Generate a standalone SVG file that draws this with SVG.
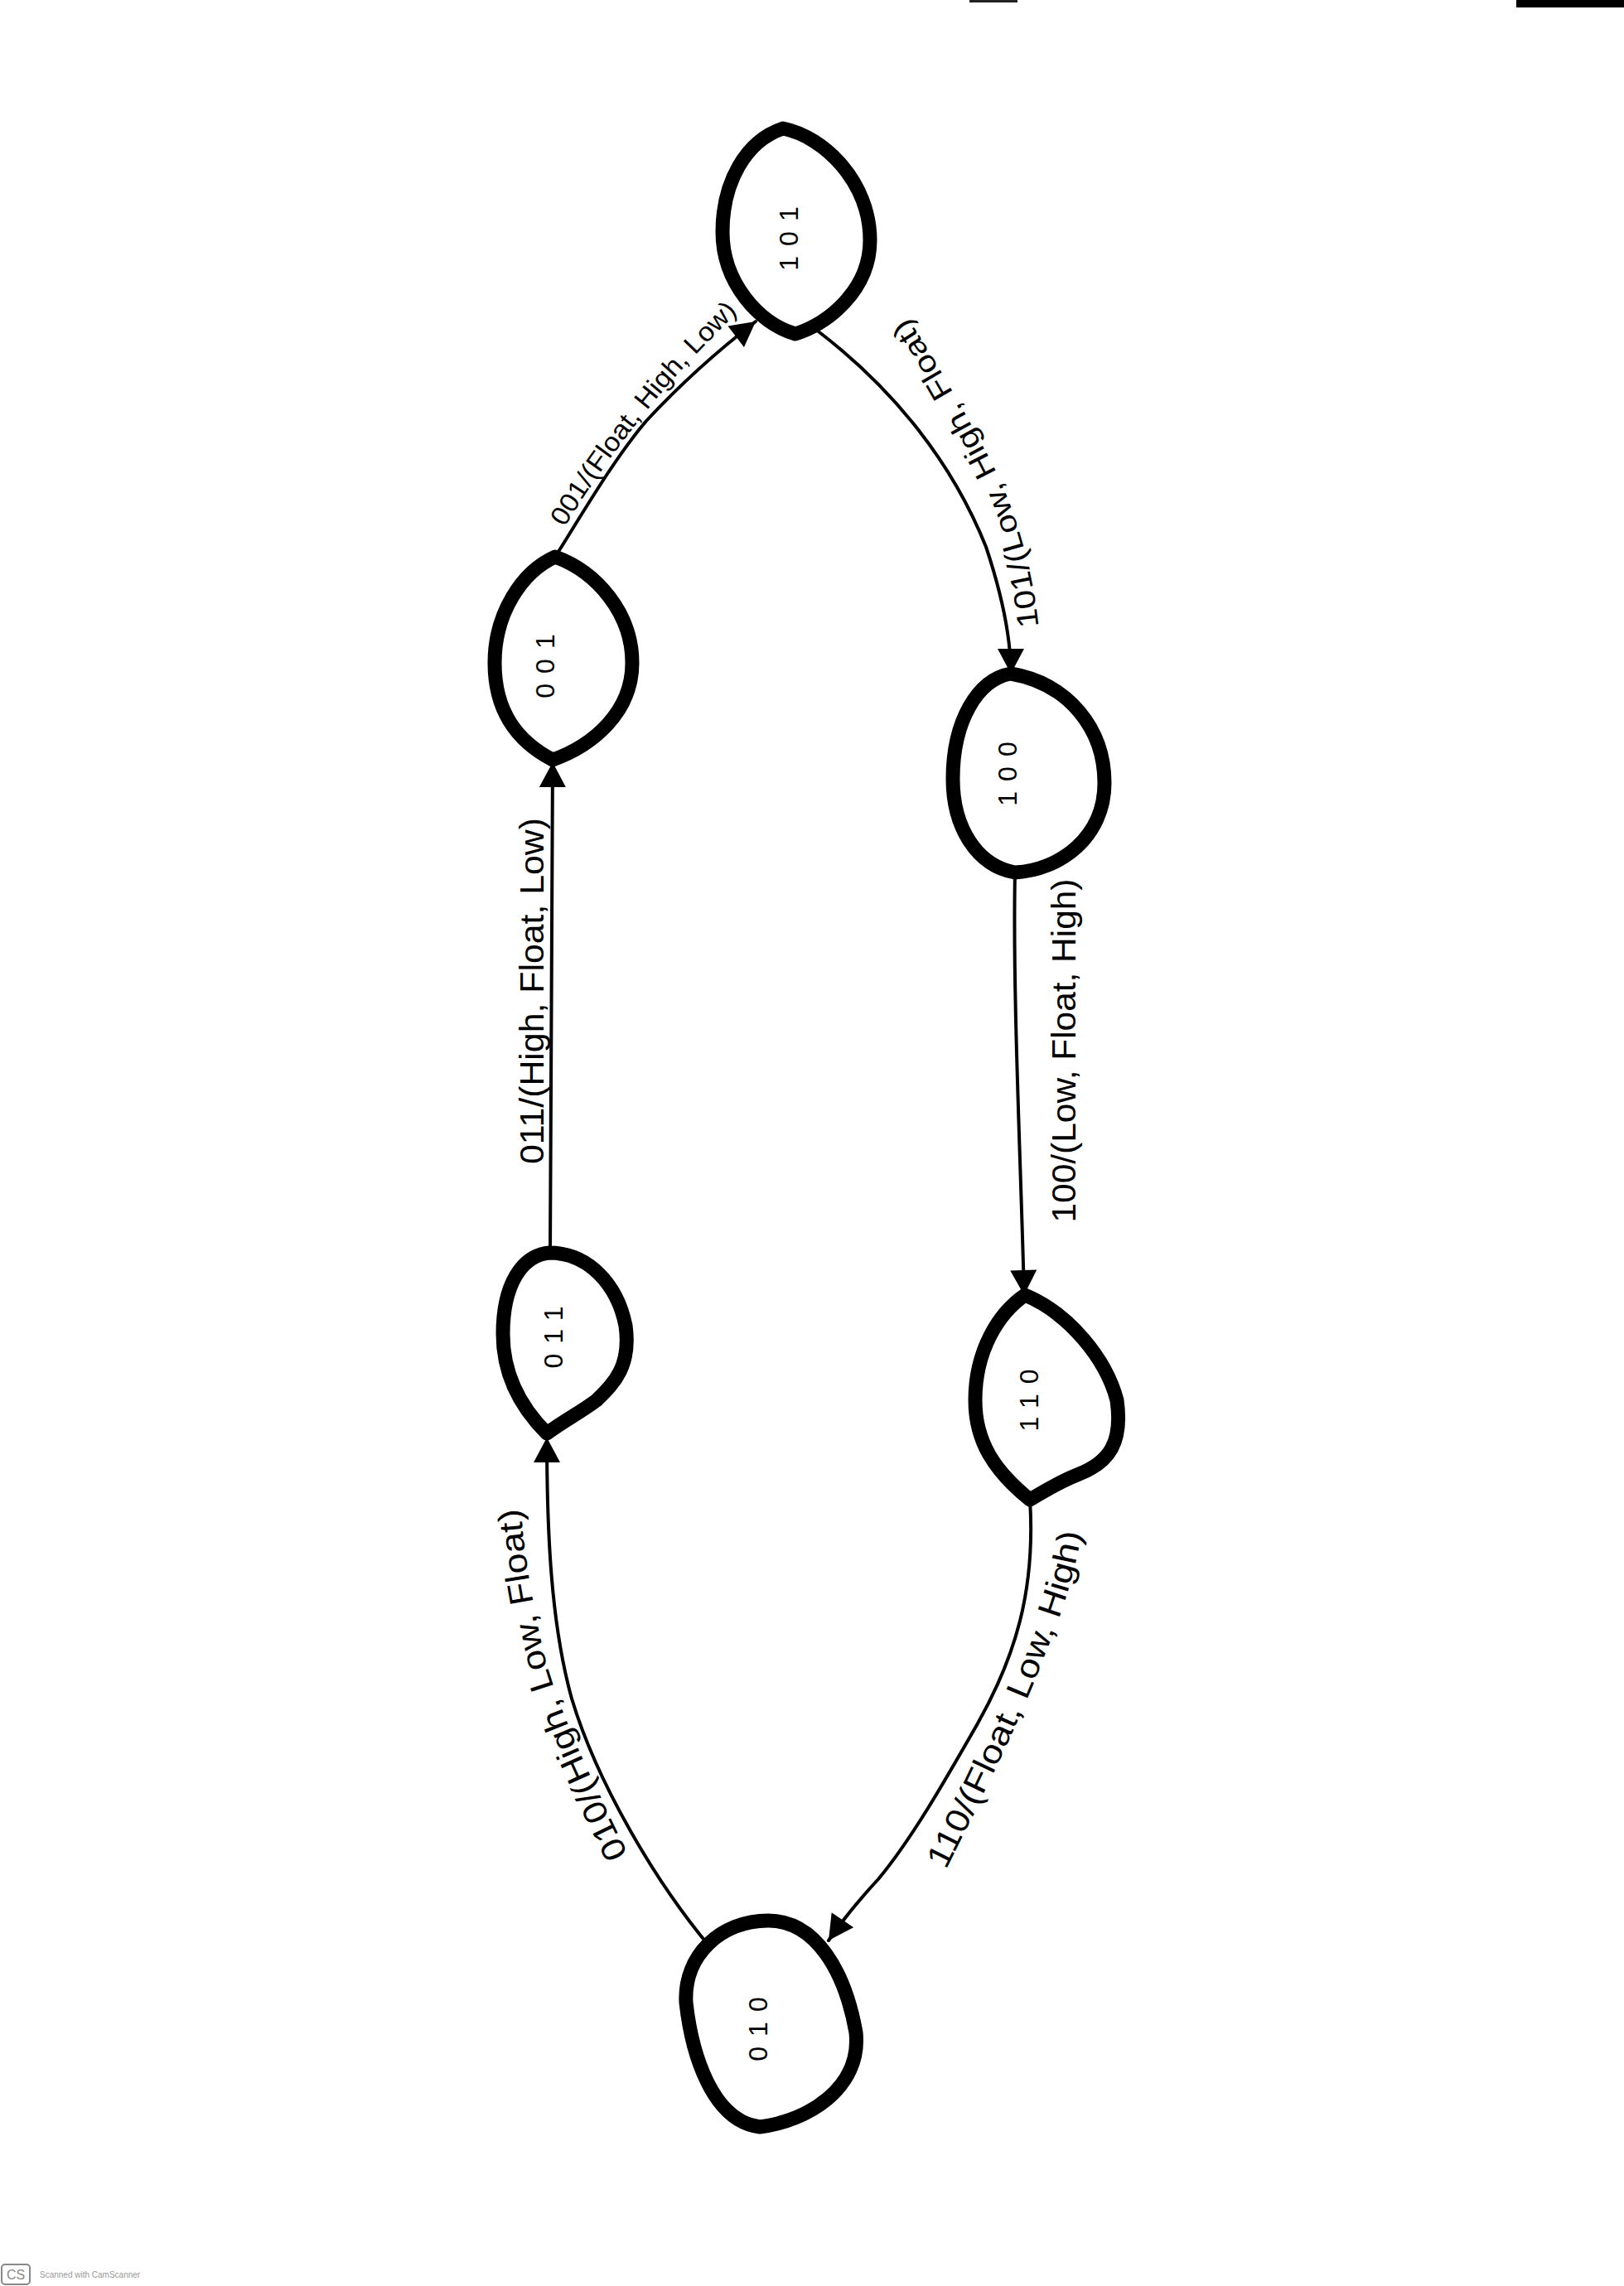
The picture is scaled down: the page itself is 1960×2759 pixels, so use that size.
<svg xmlns="http://www.w3.org/2000/svg" width="1960" height="2759" viewBox="0 0 1960 2759">
<style>
.node{fill:#fff;stroke:#000;stroke-width:17;stroke-linejoin:round}
.nlabel{font-family:"Liberation Sans","DejaVu Sans",sans-serif;font-size:32px;letter-spacing:12px;fill:#000;text-anchor:middle;dominant-baseline:central}
.edge{fill:none;stroke:#000;stroke-width:4;stroke-linecap:round}
.elabel{font-family:"Liberation Sans","DejaVu Sans",sans-serif;font-size:40px;fill:#000}
.lp{fill:none;stroke:none}
</style>
<defs>
<marker id="arr" viewBox="-34 -19 36 38" markerWidth="36" markerHeight="38" markerUnits="userSpaceOnUse" refX="0" refY="0" orient="auto">
<path d="M0,0 L-30,-16 L-30,16 Z" fill="#000"/>
</marker>
<path id="p1" class="lp" d="M765,2252 C720,2160 675,2070 655,1990 C640,1920 630,1860 628,1805"/>
<path id="p3" class="lp" d="M678,642 C720,572 760,520 800,472 C830,437 860,407 895,372"/>
<path id="p4" class="lp" d="M1254,762 C1247,682 1222,602 1187,540 C1152,475 1125,428 1092,378"/>
<path id="p6" class="lp" d="M1138,2264 C1180,2180 1230,2080 1260,2000 C1285,1940 1300,1890 1306,1842"/>
</defs>
<rect width="1960" height="2759" fill="#fff"/>
<rect x="1830" y="0" width="130" height="9" fill="#000"/>
<rect x="1170" y="0" width="58" height="3" fill="#222"/>

<g id="connectors">
<path id="e-010-011" class="edge" d="M857,2350 C790,2270 720,2150 690,2050 C665,1960 660,1850 660,1735" marker-end="url(#arr)"/>
<path id="e-011-001" class="edge" d="M664,1512 L667,920" marker-end="url(#arr)"/>
<path id="e-001-101" class="edge" d="M670,672 C700,625 740,555 780,508 C820,465 860,428 912,388" marker-end="url(#arr)"/>
<path id="e-101-100" class="edge" d="M985,398 C1080,470 1150,560 1190,660 C1210,720 1220,770 1220,813" marker-end="url(#arr)"/>
<path id="e-100-110" class="edge" d="M1225,1053 C1222,1200 1232,1400 1236,1563" marker-end="url(#arr)"/>
<path id="e-110-010" class="edge" d="M1243,1810 C1250,1920 1225,2000 1180,2080 C1140,2150 1100,2220 1060,2268 C1035,2295 1015,2320 1000,2342" marker-end="url(#arr)"/>

<text class="elabel"><textPath href="#p1" startOffset="50%" text-anchor="middle" textLength="440" lengthAdjust="spacingAndGlyphs">010/(High, Low, Float)</textPath></text>
<text class="elabel" x="656" y="1196" text-anchor="middle" textLength="418" lengthAdjust="spacingAndGlyphs" transform="rotate(-90 656 1196)">011/(High, Float, Low)</text>
<text class="elabel" style="font-size:32px"><textPath href="#p3" startOffset="50%" text-anchor="middle" textLength="335" lengthAdjust="spacingAndGlyphs">001/(Float, High, Low)</textPath></text>
<text class="elabel" style="font-size:36px"><textPath href="#p4" startOffset="50%" text-anchor="middle" textLength="410" lengthAdjust="spacingAndGlyphs">101/(Low, High, Float)</textPath></text>
<text class="elabel" x="1298" y="1268" text-anchor="middle" textLength="415" lengthAdjust="spacingAndGlyphs" transform="rotate(-90 1298 1268)">100/(Low, Float, High)</text>
<text class="elabel"><textPath href="#p6" startOffset="50%" text-anchor="middle" textLength="440" lengthAdjust="spacingAndGlyphs">110/(Float, Low, High)</textPath></text>
</g>

<g id="node-101">
<path class="node" d="M945,155 C995,165 1050,220 1050,290 C1050,350 1000,390 960,403 C915,390 872,340 872,280 C872,220 900,170 945,155 Z"/>
<text class="nlabel" transform="translate(952,282) rotate(-90)">101</text>
</g>
<g id="node-001">
<path class="node" d="M670,672 C720,690 763,740 763,800 C763,860 715,900 667,917 C625,895 597,860 597,800 C597,740 630,690 670,672 Z"/>
<text class="nlabel" transform="translate(658,798) rotate(-90)">001</text>
</g>
<g id="node-100">
<path class="node" d="M1220,813 C1290,825 1333,880 1333,945 C1333,1010 1280,1050 1225,1053 C1180,1045 1150,1000 1150,940 C1150,870 1180,820 1220,813 Z"/>
<text class="nlabel" transform="translate(1216,928) rotate(-90)">100</text>
</g>
<g id="node-011">
<path class="node" d="M663,1512 C710,1512 745,1550 755,1600 C762,1650 740,1670 720,1690 C700,1705 680,1715 660,1730 C630,1700 607,1660 607,1610 C607,1550 630,1515 663,1512 Z"/>
<text class="nlabel" transform="translate(668,1608) rotate(-90)">011</text>
</g>
<g id="node-110">
<path class="node" d="M1237,1563 C1290,1585 1335,1640 1348,1690 C1355,1740 1340,1765 1300,1780 C1275,1790 1260,1800 1243,1810 C1200,1775 1177,1740 1177,1690 C1177,1630 1205,1585 1237,1563 Z"/>
<text class="nlabel" transform="translate(1242,1684) rotate(-90)">110</text>
</g>
<g id="node-010">
<path class="node" d="M927,2318 C985,2318 1020,2380 1033,2453 C1040,2520 975,2560 917,2567 C860,2560 835,2480 828,2417 C825,2360 870,2318 927,2318 Z"/>
<text class="nlabel" transform="translate(915,2443) rotate(-90)">010</text>
</g>

<g id="watermark">
<rect x="2" y="2733" width="34" height="24" rx="4" fill="none" stroke="#888" stroke-width="2"/>
<text x="19" y="2751" font-family="Liberation Sans, sans-serif" font-size="16" fill="#888" text-anchor="middle">CS</text>
<text x="48" y="2749" font-family="Liberation Sans, sans-serif" font-size="10" fill="#999">Scanned with CamScanner</text>
</g>
</svg>
